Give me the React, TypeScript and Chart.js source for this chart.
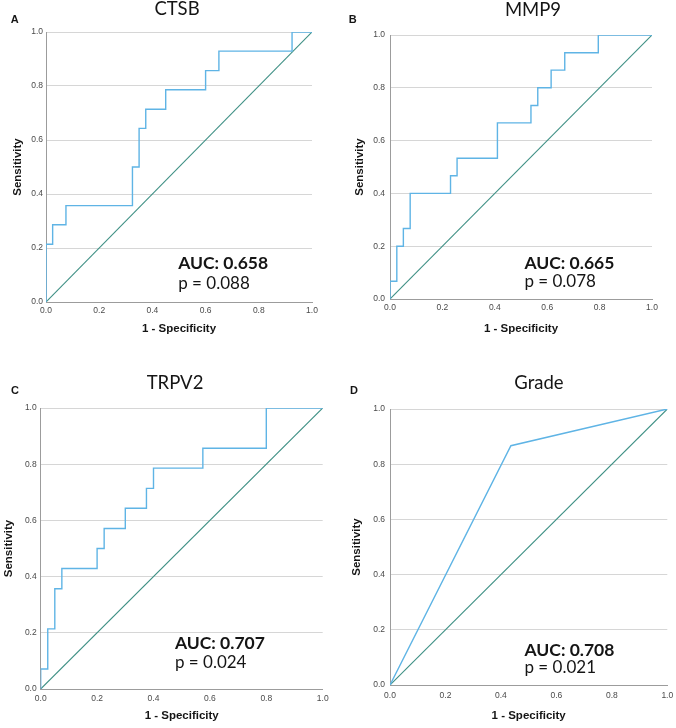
import React, { useEffect, useRef } from "react";
import { Chart, registerables } from "chart.js";

Chart.register(...registerables);

// ---------- data ----------
const panelLetters = ["A", "B", "C", "D"];
const panelTitles = ["CTSB", "MMP9", "TRPV2", "Grade"];
const aucValues = ["0.658", "0.665", "0.707", "0.708"];
const pValues = ["0.088", "0.078", "0.024", "0.021"];
const tickLabels = ["0.0", "0.2", "0.4", "0.6", "0.8", "1.0"];

const ctsbFpr = [0, 0, 0.025, 0.025, 0.075, 0.075, 0.325, 0.325, 0.35, 0.35, 0.375, 0.375, 0.45, 0.45, 0.6, 0.6, 0.65, 0.65, 0.925, 0.925, 1];
const ctsbTpr = [0, 0.214, 0.214, 0.286, 0.286, 0.357, 0.357, 0.5, 0.5, 0.643, 0.643, 0.714, 0.714, 0.786, 0.786, 0.857, 0.857, 0.929, 0.929, 1, 1];

const mmp9Fpr = [0, 0, 0.026, 0.026, 0.051, 0.051, 0.077, 0.077, 0.231, 0.231, 0.256, 0.256, 0.41, 0.41, 0.538, 0.538, 0.564, 0.564, 0.615, 0.615, 0.667, 0.667, 0.795, 0.795, 1];
const mmp9Tpr = [0, 0.067, 0.067, 0.2, 0.2, 0.267, 0.267, 0.4, 0.4, 0.467, 0.467, 0.533, 0.533, 0.667, 0.667, 0.733, 0.733, 0.8, 0.8, 0.867, 0.867, 0.933, 0.933, 1, 1];

const trpv2Fpr = [0, 0, 0.025, 0.025, 0.05, 0.05, 0.075, 0.075, 0.2, 0.2, 0.225, 0.225, 0.3, 0.3, 0.375, 0.375, 0.4, 0.4, 0.575, 0.575, 0.8, 0.8, 1];
const trpv2Tpr = [0, 0.071, 0.071, 0.214, 0.214, 0.357, 0.357, 0.429, 0.429, 0.5, 0.5, 0.571, 0.571, 0.643, 0.643, 0.714, 0.714, 0.786, 0.786, 0.857, 0.857, 1, 1];

const gradeFpr = [0, 0.436, 1];
const gradeTpr = [0, 0.867, 1];

const refFpr = [0, 1];
const refTpr = [0, 1];

const curvesFpr = [ctsbFpr, mmp9Fpr, trpv2Fpr, gradeFpr];
const curvesTpr = [ctsbTpr, mmp9Tpr, trpv2Tpr, gradeTpr];

// ---------- layout (pixels) ----------
type Layout = {
  left: number; top: number; w: number; h: number;
  padTop: number; padRight: number; yW: number; xH: number;
  yTitlePad: number; xTitlePad: number; yTickPad: number; xTickPad: number;
  titleX: number; titleY: number; letterX: number; letterY: number;
  textX: number; aucY: number; pY: number;
};

const layouts: Layout[] = [
  { left: 0, top: 0, w: 338, h: 345, padTop: 32, padRight: 26, yW: 46, xH: 43, yTitlePad: 10.6, xTitlePad: 9.1, yTickPad: 3, xTickPad: 3.5, titleX: 177, titleY: 15, letterX: 14.7, letterY: 22.7, textX: 0.497, aucY: 0.123, pY: 0.047 },
  { left: 338, top: 0, w: 338, h: 345, padTop: 35, padRight: 24, yW: 52, xH: 46, yTitlePad: 15.1, xTitlePad: 9.1, yTickPad: 5, xTickPad: 3.5, titleX: 195, titleY: 16, letterX: 14.8, letterY: 22.7, textX: 0.513, aucY: 0.115, pY: 0.044 },
  { left: 0, top: 365, w: 338, h: 363, padTop: 43, padRight: 15.3, yW: 40.7, xH: 39, yTitlePad: 1.6, xTitlePad: 5.1, yTickPad: 4, xTickPad: 4.7, titleX: 175, titleY: 24.3, letterX: 15, letterY: 29.2, textX: 0.476, aucY: 0.141, pY: 0.074 },
  { left: 338, top: 365, w: 338, h: 363, padTop: 44, padRight: 8.7, yW: 52, xH: 43, yTitlePad: 11.8, xTitlePad: 5.1, yTickPad: 5, xTickPad: 6, titleX: 201, titleY: 24.3, letterX: 16, letterY: 29.2, textX: 0.485, aucY: 0.105, pY: 0.042 },
];

const CURVE_COLOR = "#5fb4e5";
const REF_COLOR = "#3f9085";
const AXIS_COLOR = "#9c9c9c";
const GRID_COLOR = "#d6d6d6";
const TEXT_COLOR = "#151515";
const TICK_COLOR = "#4a4a4a";

function RocPanel({ index }: { index: number }) {
  const ref = useRef<HTMLCanvasElement>(null);
  const L = layouts[index];

  useEffect(() => {
    if (!ref.current) return;
    const fpr = curvesFpr[index];
    const tpr = curvesTpr[index];

    const annot = {
      id: "annot" + index,
      afterDraw(chart: any) {
        const { ctx } = chart;
        const xs = chart.scales.x;
        const ys = chart.scales.y;
        ctx.save();
        ctx.fillStyle = TEXT_COLOR;
        ctx.textBaseline = "alphabetic";
        ctx.textAlign = "center";
        ctx.font = "18.5px Lato";
        ctx.fillText(panelTitles[index], L.titleX, L.titleY);
        ctx.font = "bold 11px 'Liberation Sans'";
        ctx.fillText(panelLetters[index], L.letterX, L.letterY);
        ctx.textAlign = "left";
        ctx.font = "bold 17.5px Lato";
        ctx.fillText("AUC: " + aucValues[index], xs.getPixelForValue(L.textX), ys.getPixelForValue(L.aucY));
        ctx.font = "17px Lato";
        ctx.fillText("p = " + pValues[index], xs.getPixelForValue(L.textX), ys.getPixelForValue(L.pY));
        ctx.restore();
      },
    };

    const tickFont = { family: "'Liberation Sans', Arial, sans-serif", size: 8.5 };
    const titleFont = { family: "'Liberation Sans', Arial, sans-serif", size: 11.5, weight: "bold" as const };

    const chart = new Chart(ref.current, {
      type: "scatter",
      data: {
        datasets: [
          {
            data: fpr.map((x, i) => ({ x, y: tpr[i] })),
            showLine: true,
            borderColor: CURVE_COLOR,
            borderWidth: 1.4,
            pointRadius: 0,
            tension: 0,
            fill: false,
          },
          {
            data: refFpr.map((x, i) => ({ x, y: refTpr[i] })),
            showLine: true,
            borderColor: REF_COLOR,
            borderWidth: 1.1,
            pointRadius: 0,
            tension: 0,
            fill: false,
          },
        ],
      },
      options: {
        responsive: false,
        animation: false,
        devicePixelRatio: 1,
        layout: { padding: { top: L.padTop, right: L.padRight, bottom: 0, left: 0 } },
        plugins: {
          legend: { display: false },
          tooltip: { enabled: false },
          title: { display: false },
        },
        scales: {
          x: {
            type: "linear",
            min: 0,
            max: 1,
            ticks: {
              stepSize: 0.2,
              autoSkip: false,
              maxRotation: 0,
              font: tickFont,
              color: TICK_COLOR,
              padding: L.xTickPad,
              callback: (_v: any, i: number) => tickLabels[i],
            },
            grid: { display: false, drawTicks: false },
            border: { display: true, color: AXIS_COLOR, width: 1 },
            title: {
              display: true,
              text: "1 - Specificity",
              font: titleFont,
              color: TEXT_COLOR,
              padding: { top: 0, bottom: L.xTitlePad },
            },
            afterFit: (s: any) => {
              s.height = L.xH;
              s.paddingLeft = 0;
              s.paddingRight = 0;
            },
          },
          y: {
            type: "linear",
            min: 0,
            max: 1,
            ticks: {
              stepSize: 0.2,
              autoSkip: false,
              font: tickFont,
              color: TICK_COLOR,
              padding: L.yTickPad,
              callback: (_v: any, i: number) => tickLabels[i],
            },
            grid: {
              drawTicks: false,
              color: (c: any) => (c.tick && c.tick.value === 0 ? "rgba(0,0,0,0)" : GRID_COLOR),
              lineWidth: 1,
            },
            border: { display: true, color: AXIS_COLOR, width: 1 },
            title: {
              display: true,
              text: "Sensitivity",
              font: titleFont,
              color: TEXT_COLOR,
              padding: { top: L.yTitlePad, bottom: 0 },
            },
            afterFit: (s: any) => {
              s.width = L.yW;
              s.paddingTop = 0;
              s.paddingBottom = 0;
            },
          },
        },
      },
      plugins: [annot],
    } as any);

    return () => chart.destroy();
  }, [index]);

  return (
    <div style={{ position: "absolute", left: L.left, top: L.top, width: L.w, height: L.h }}>
      <canvas ref={ref} width={L.w} height={L.h} style={{ width: L.w, height: L.h, display: "block" }} />
    </div>
  );
}

export default function App() {
  return (
    <div style={{ position: "absolute", left: 0, top: 0, width: 676, height: 728, background: "#ffffff", overflow: "hidden" }}>
      {[0, 1, 2, 3].map((i) => (
        <RocPanel key={i} index={i} />
      ))}
    </div>
  );
}
